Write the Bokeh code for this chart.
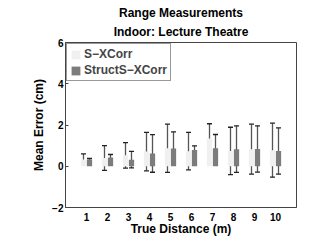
from bokeh.plotting import figure
from bokeh.models import ColumnDataSource, Whisker, TeeHead, Title, Legend, LegendItem, FixedTicker
from bokeh.embed import file_html
from bokeh.resources import INLINE

# ---- data ----
distance = [1, 2, 3, 4, 5, 6, 7, 8, 9, 10]
s_mean = [0.33, 0.40, 0.53, 0.71, 0.87, 0.73, 1.35, 0.74, 0.83, 0.78]
s_std = [0.27, 0.60, 0.62, 0.93, 1.17, 0.91, 0.71, 1.15, 1.21, 1.31]
st_mean = [0.33, 0.43, 0.32, 0.62, 0.86, 0.79, 0.87, 0.83, 0.84, 0.74]
st_std = [0.05, 0.14, 0.40, 0.91, 0.81, 0.20, 0.67, 1.13, 1.12, 1.12]
series_names = ["S\u2212XCorr", "StructS\u2212XCorr"]
y_ticks = [-2, 0, 2, 4, 6]

FONT = "Liberation Sans"
OFF = 0.143
BW = 0.25

src_s = ColumnDataSource(dict(
    x=[d - OFF for d in distance], top=s_mean,
    upper=[m + s for m, s in zip(s_mean, s_std)],
    lower=[m - s for m, s in zip(s_mean, s_std)]))
src_t = ColumnDataSource(dict(
    x=[d + OFF for d in distance], top=st_mean,
    upper=[m + s for m, s in zip(st_mean, st_std)],
    lower=[m - s for m, s in zip(st_mean, st_std)]))

p = figure(width=312, height=241, x_range=(0, 11), y_range=(-2, 6),
           output_backend="svg", toolbar_location=None,
           min_border_left=65, min_border_right=16, min_border_top=42, min_border_bottom=34)
p.background_fill_color = "white"
p.border_fill_color = "white"
p.outline_line_color = "#444444"
p.outline_line_width = 1
p.xgrid.visible = False
p.ygrid.visible = False

r1 = p.vbar(x="x", top="top", bottom=0, width=BW, source=src_s,
            fill_color="#f0f0f0", line_color=None)
r2 = p.vbar(x="x", top="top", bottom=0, width=BW, source=src_t,
            fill_color="#7c7c7c", line_color=None)

for src in (src_s, src_t):
    w = Whisker(source=src, base="x", upper="upper", lower="lower",
                line_color="#555555", line_width=1.3,
                upper_head=TeeHead(size=5, line_color="#222222", line_width=1.3),
                lower_head=TeeHead(size=5, line_color="#222222", line_width=1.3))
    p.add_layout(w)

# axes
for ax in (p.xaxis[0], p.yaxis[0]):
    ax.axis_line_color = "#444444"
    ax.major_tick_line_color = "#444444"
    ax.minor_tick_line_color = None
    ax.major_label_text_font = FONT
    ax.major_label_text_font_style = "bold"
    ax.major_label_text_font_size = "10px"
    ax.major_label_text_color = "black"
    ax.axis_label_text_font = FONT
    ax.axis_label_text_font_style = "bold"
    ax.axis_label_text_font_size = "12px"
    ax.axis_label_text_color = "black"

p.xaxis.ticker = FixedTicker(ticks=distance)
p.xaxis.major_tick_in = 0
p.xaxis.major_tick_out = 0
p.xaxis.major_label_standoff = 5
p.xaxis.axis_label = "True Distance (m)"
p.xaxis.axis_label_standoff = -2

p.yaxis.ticker = FixedTicker(ticks=y_ticks)
p.yaxis.major_tick_in = 3
p.yaxis.major_tick_out = 0
p.yaxis.major_label_standoff = 2
p.yaxis.axis_label = "Mean Error (cm)"
p.yaxis.axis_label_standoff = 3

# titles
p.add_layout(Title(text="Indoor: Lecture Theatre", align="center", text_font=FONT,
                   text_font_style="bold", text_font_size="12px", standoff=7,
                   text_color="black"), "above")
p.add_layout(Title(text="Range Measurements", align="center", text_font=FONT,
                   text_font_style="bold", text_font_size="12px", standoff=0,
                   text_color="black"), "above")

legend = Legend(items=[LegendItem(label=series_names[0], renderers=[r1]),
                       LegendItem(label=series_names[1], renderers=[r2])],
                location="top_left", margin=1, padding=3, spacing=2,
                glyph_width=11, glyph_height=11, label_standoff=3,
                label_text_font=FONT, label_text_font_style="bold",
                label_text_font_size="12px", label_height=11,
                border_line_color="#333333", border_line_width=1,
                background_fill_alpha=1.0)
p.add_layout(legend)

open("out.html", "w").write(file_html(p, INLINE))
